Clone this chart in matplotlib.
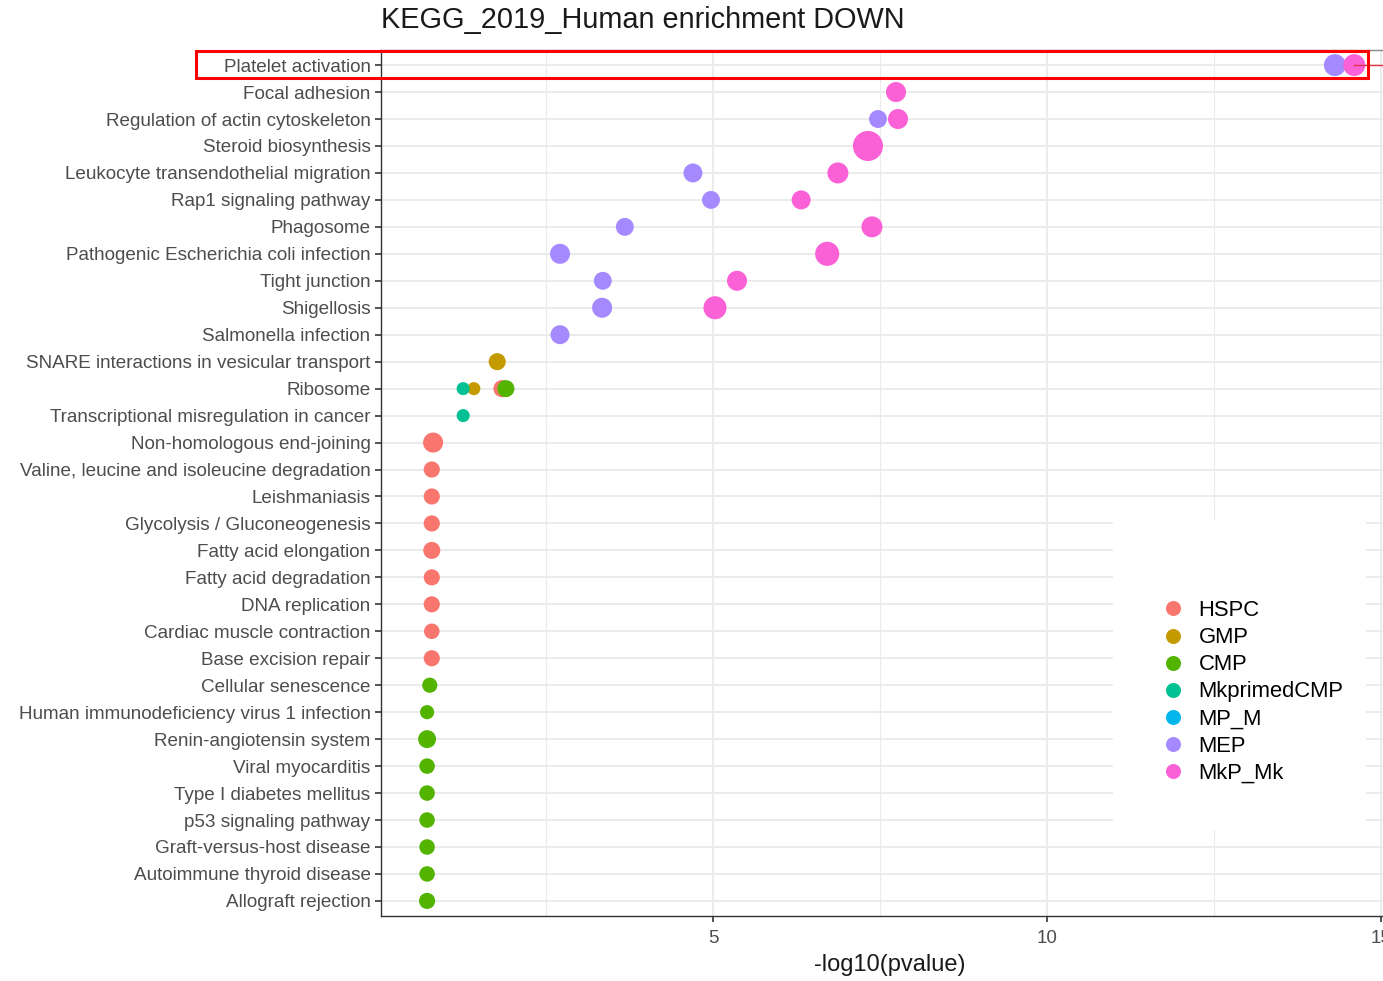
import numpy as np
import matplotlib.pyplot as plt
from matplotlib.patches import Rectangle
from matplotlib.lines import Line2D

plt.rcParams["font.family"] = ["Liberation Sans", "DejaVu Sans"]

# 通路（由上而下）
pathways = [
    "Platelet activation", "Focal adhesion", "Regulation of actin cytoskeleton",
    "Steroid biosynthesis", "Leukocyte transendothelial migration",
    "Rap1 signaling pathway", "Phagosome", "Pathogenic Escherichia coli infection",
    "Tight junction", "Shigellosis", "Salmonella infection",
    "SNARE interactions in vesicular transport", "Ribosome",
    "Transcriptional misregulation in cancer", "Non-homologous end-joining",
    "Valine, leucine and isoleucine degradation", "Leishmaniasis",
    "Glycolysis / Gluconeogenesis", "Fatty acid elongation", "Fatty acid degradation",
    "DNA replication", "Cardiac muscle contraction", "Base excision repair",
    "Cellular senescence", "Human immunodeficiency virus 1 infection",
    "Renin-angiotensin system", "Viral myocarditis", "Type I diabetes mellitus",
    "p53 signaling pathway", "Graft-versus-host disease",
    "Autoimmune thyroid disease", "Allograft rejection",
]

cell_types = ["HSPC", "GMP", "CMP", "MkprimedCMP", "MP_M", "MEP", "MkP_Mk"]
colors = ["#F8766D", "#C49A00", "#53B400", "#00C094", "#00B6EB", "#A58AFF", "#FB61D7"]

# 每個點：通路、細胞類型、-log10(p)、基因數
pt_pathway = [
    "Platelet activation", "Platelet activation",
    "Focal adhesion",
    "Regulation of actin cytoskeleton", "Regulation of actin cytoskeleton",
    "Steroid biosynthesis",
    "Leukocyte transendothelial migration", "Leukocyte transendothelial migration",
    "Rap1 signaling pathway", "Rap1 signaling pathway",
    "Phagosome", "Phagosome",
    "Pathogenic Escherichia coli infection", "Pathogenic Escherichia coli infection",
    "Tight junction", "Tight junction",
    "Shigellosis", "Shigellosis",
    "Salmonella infection",
    "SNARE interactions in vesicular transport",
    "Ribosome", "Ribosome", "Ribosome", "Ribosome",
    "Transcriptional misregulation in cancer",
    "Non-homologous end-joining", "Valine, leucine and isoleucine degradation",
    "Leishmaniasis", "Glycolysis / Gluconeogenesis", "Fatty acid elongation",
    "Fatty acid degradation", "DNA replication", "Cardiac muscle contraction",
    "Base excision repair",
    "Cellular senescence", "Human immunodeficiency virus 1 infection",
    "Renin-angiotensin system", "Viral myocarditis", "Type I diabetes mellitus",
    "p53 signaling pathway", "Graft-versus-host disease",
    "Autoimmune thyroid disease", "Allograft rejection",
]
pt_cell = [
    "MEP", "MkP_Mk",
    "MkP_Mk",
    "MEP", "MkP_Mk",
    "MkP_Mk",
    "MEP", "MkP_Mk",
    "MEP", "MkP_Mk",
    "MEP", "MkP_Mk",
    "MEP", "MkP_Mk",
    "MEP", "MkP_Mk",
    "MEP", "MkP_Mk",
    "MEP",
    "GMP",
    "MkprimedCMP", "GMP", "HSPC", "CMP",
    "MkprimedCMP",
    "HSPC", "HSPC", "HSPC", "HSPC", "HSPC", "HSPC", "HSPC", "HSPC", "HSPC",
    "CMP", "CMP", "CMP", "CMP", "CMP", "CMP", "CMP", "CMP", "CMP",
]
pt_logp = [
    14.31, 14.60,
    7.74,
    7.47, 7.77,
    7.32,
    4.70, 6.87,
    4.97, 6.32,
    3.68, 7.38,
    2.71, 6.71,
    3.35, 5.36,
    3.34, 5.03,
    2.71,
    1.77,
    1.26, 1.42, 1.84, 1.90,
    1.26,
    0.81, 0.79, 0.79, 0.79, 0.79, 0.79, 0.79, 0.79, 0.79,
    0.76, 0.72, 0.72, 0.72, 0.72, 0.72, 0.72, 0.72, 0.72,
]
pt_genes = [
    48, 48,
    40,
    32, 40,
    90,
    36, 44,
    32, 36,
    32, 44,
    40, 58,
    32, 40,
    40, 53,
    36,
    29,
    17, 17, 29, 29,
    17,
    40, 26, 26, 26, 29, 26, 26, 24, 26,
    23, 20, 32, 24, 24, 24, 24, 24, 26,
]

row_of = {p: i for i, p in enumerate(pathways)}
col_of = dict(zip(cell_types, colors))

fig = plt.figure(figsize=(13.83, 9.81), dpi=100)
# 面板右緣延伸到圖外（原圖被裁切）
ax = fig.add_axes([381 / 1383, 1 - 916 / 981, (1399 - 381) / 1383, (916 - 50) / 981])

# 依細胞類型順序繪製（後者在上）
for ct in cell_types:
    idx = [k for k, c in enumerate(pt_cell) if c == ct]
    if not idx:
        continue
    xs = [pt_logp[k] for k in idx]
    ys = [row_of[pt_pathway[k]] for k in idx]
    ss = [pt_genes[k] * 5.2 for k in idx]
    ax.scatter(xs, ys, s=ss, color=col_of[ct], edgecolors="none", zorder=3)

ax.set_xlim(0.03, 15.27)
ax.set_ylim(len(pathways) - 1 + 0.56, -0.56)
ax.set_yticks(range(len(pathways)))
ax.set_yticklabels(pathways)
ax.set_xticks([5, 10, 15])
ax.set_xticks([2.5, 7.5, 12.5], minor=True)
ax.tick_params(axis="both", which="major", labelsize=13.6, colors="#333333",
               labelcolor="#4D4D4D", length=4, width=1.2)
ax.tick_params(axis="x", which="minor", length=0)
ax.tick_params(axis="x", pad=6)
ax.grid(True, which="major", color="#EBEBEB", linewidth=1.4, zorder=0)
ax.grid(True, which="minor", axis="x", color="#EBEBEB", linewidth=0.8, zorder=0)
ax.set_axisbelow(True)
for sp in ax.spines.values():
    sp.set_color("#333333")
    sp.set_linewidth(1.0)
ax.spines["top"].set_color("#888888")

ax.set_xlabel("-log10(pvalue)", fontsize=17, color="#1A1A1A", labelpad=5)
fig.text(381 / 1383, 1 - 20 / 981, "KEGG_2019_Human enrichment DOWN",
         fontsize=20.8, ha="left", va="center", color="#1A1A1A")

# 圖例背景（白色，蓋住格線）
fig.patches.append(Rectangle((1113 / 1383, 1 - 830 / 981), (1366 - 1113) / 1383,
                             310 / 981, transform=fig.transFigure, facecolor="white",
                             edgecolor="none", zorder=4))
handles = [Line2D([0], [0], marker="o", linestyle="none", markersize=10.8,
                  markerfacecolor=c, markeredgecolor="none") for c in colors]
leg = fig.legend(handles, cell_types, loc="center left",
                 bbox_to_anchor=(1146 / 1383, 1 - 692 / 981),
                 frameon=False, fontsize=15.8, labelspacing=0.28,
                 handletextpad=0.4, borderpad=0, handlelength=1.5)
leg.set_zorder(5)

# 紅框標示第一列
fig.patches.append(Rectangle((196 / 1383, 1 - 78 / 981), (1368 - 196) / 1383,
                             27 / 981, transform=fig.transFigure, fill=False,
                             edgecolor="#FF0000", linewidth=2.2, zorder=10))
ax.plot([14.6, 15.2], [0, 0], color="#E8304A", linewidth=1.0, zorder=6)

plt.savefig("out.png", dpi=100)
